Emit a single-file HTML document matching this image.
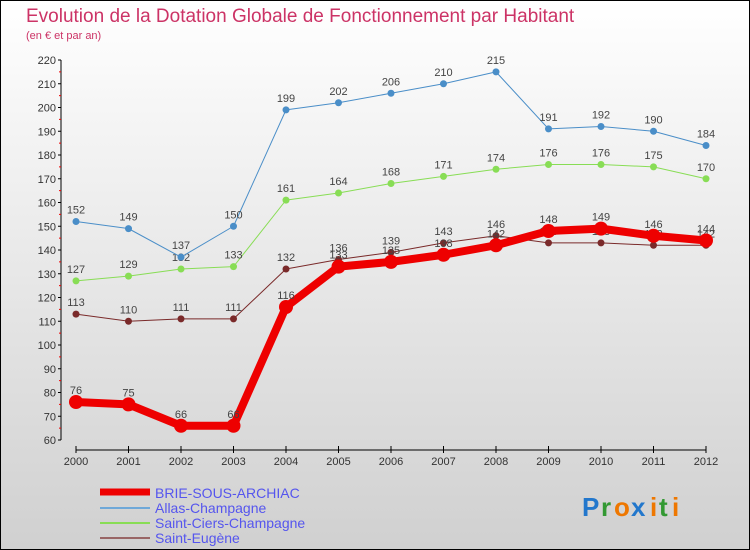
<!DOCTYPE html>
<html><head><meta charset="utf-8"><style>
body{margin:0;}
#wrap{width:750px;height:550px;position:relative;overflow:hidden;}
svg text{font-family:"Liberation Sans",sans-serif;}
</style></head><body>
<div id="wrap">
<svg id="chart" width="750" height="550" viewBox="0 0 750 550">
<defs><linearGradient id="bg" x1="0" y1="0" x2="0" y2="1"><stop offset="0" stop-color="#ffffff"/><stop offset="1" stop-color="#d0d0d0"/></linearGradient></defs>
<rect x="0.5" y="0.5" width="749" height="549" fill="url(#bg)" stroke="#000"/>
<text x="26" y="22" font-size="19" fill="#cc3366">Evolution de la Dotation Globale de Fonctionnement par Habitant</text>
<text x="26" y="39" font-size="11" fill="#cc3366">(en € et par an)</text>
<g id="axes"></g>
<g id="series"></g>
<g id="legend">
<line x1="100" y1="492" x2="150" y2="492" stroke="#ee0000" stroke-width="7"/>
<text x="155" y="498" font-size="14" fill="#5555ee">BRIE-SOUS-ARCHIAC</text>
<line x1="100" y1="508" x2="150" y2="508" stroke="#6fa8d8" stroke-width="2"/>
<text x="155" y="513" font-size="14" fill="#5555ee">Allas-Champagne</text>
<line x1="100" y1="523" x2="150" y2="523" stroke="#88dd55" stroke-width="2"/>
<text x="155" y="528" font-size="14" fill="#5555ee">Saint-Ciers-Champagne</text>
<line x1="100" y1="538" x2="150" y2="538" stroke="#996666" stroke-width="2"/>
<text x="155" y="543" font-size="14" fill="#5555ee">Saint-Eugène</text>
</g>
<g font-size="26" font-weight="bold">
<text x="582" y="516" fill="#2277cc">P</text><text x="601" y="516" fill="#339933">r</text><text x="614" y="516" fill="#ee7700">o</text><text x="631" y="516" fill="#2277cc">x</text><text x="650" y="516" fill="#ee7700">i</text><text x="659" y="516" fill="#339933">t</text><text x="672" y="516" fill="#ee7700">i</text>
</g>
</svg>
</div>
<script>
const years = [2000,2001,2002,2003,2004,2005,2006,2007,2008,2009,2010,2011,2012];
const brie = [76,75,66,66,116,133,135,138,142,148,149,146,144];
const allas = [152,149,137,150,199,202,206,210,215,191,192,190,184];
const saintCiers = [127,129,132,133,161,164,168,171,174,176,176,175,170];
const saintEugene = [113,110,111,111,132,136,139,143,146,143,143,142,142];
const yTicks = [60,70,80,90,100,110,120,130,140,150,160,170,180,190,200,210,220];

const NS = "http://www.w3.org/2000/svg";
const x = i => 76 + i * 52.5;
const y = v => 440 - (v - 60) * 2.375;
function mk(tag, attrs, parent){const e=document.createElementNS(NS,tag);for(const k in attrs)e.setAttribute(k,attrs[k]);parent.appendChild(e);return e;}
const axes=document.getElementById('axes'), ser=document.getElementById('series');

const ya=mk('line',{x1:61,y1:y(220),x2:61,y2:y(60),stroke:'#000','stroke-width':1},axes);


yTicks.forEach(v=>{
  const t=mk('line',{x1:58,y1:y(v),x2:61,y2:y(v),stroke:'#000'},axes);
  
  
  const l=mk('text',{x:56,y:y(v)+4,'font-size':11,fill:'#333','text-anchor':'end'},axes);
  l.textContent=v;
  
  
  if(v<220){const m=mk('line',{x1:59,y1:y(v+5),x2:61,y2:y(v+5),stroke:'#e00'},axes);
  
  }
});
const xa=mk('line',{x1:x(0),y1:450,x2:x(12),y2:450,stroke:'#000'},axes);


years.forEach((yr,i)=>{
  const t=mk('line',{x1:x(i),y1:446,x2:x(i),y2:453,stroke:'#000'},axes);
  
  
  const l=mk('text',{x:x(i),y:465,'font-size':11,fill:'#333','text-anchor':'middle'},axes);
  l.textContent=yr;
  
  
});

function draw(vals,color,lw,r,name){
  const g=mk('g',{},ser);
  
  
  const p=mk('polyline',{points:vals.map((v,i)=>x(i)+','+y(v)).join(' '),fill:'none',stroke:color,'stroke-width':lw,'stroke-linejoin':'round'},g);
  
  
  vals.forEach((v,i)=>{
    const c=mk('circle',{cx:x(i),cy:y(v),r:r,fill:color},g);
    
    
    const t=mk('text',{x:x(i),y:y(v)-8,'font-size':11,fill:'#444','text-anchor':'middle'},g);
    t.textContent=v;
    
    
  });
}
draw(saintEugene,'#7a2a2a',1,3.5,'saint-eugene');
draw(saintCiers,'#88dd55',1,3.5,'saint-ciers');
draw(allas,'#4a8ec8',1,3.5,'allas');
draw(brie,'#ee0000',8,7,'brie');
</script>
</body></html>
